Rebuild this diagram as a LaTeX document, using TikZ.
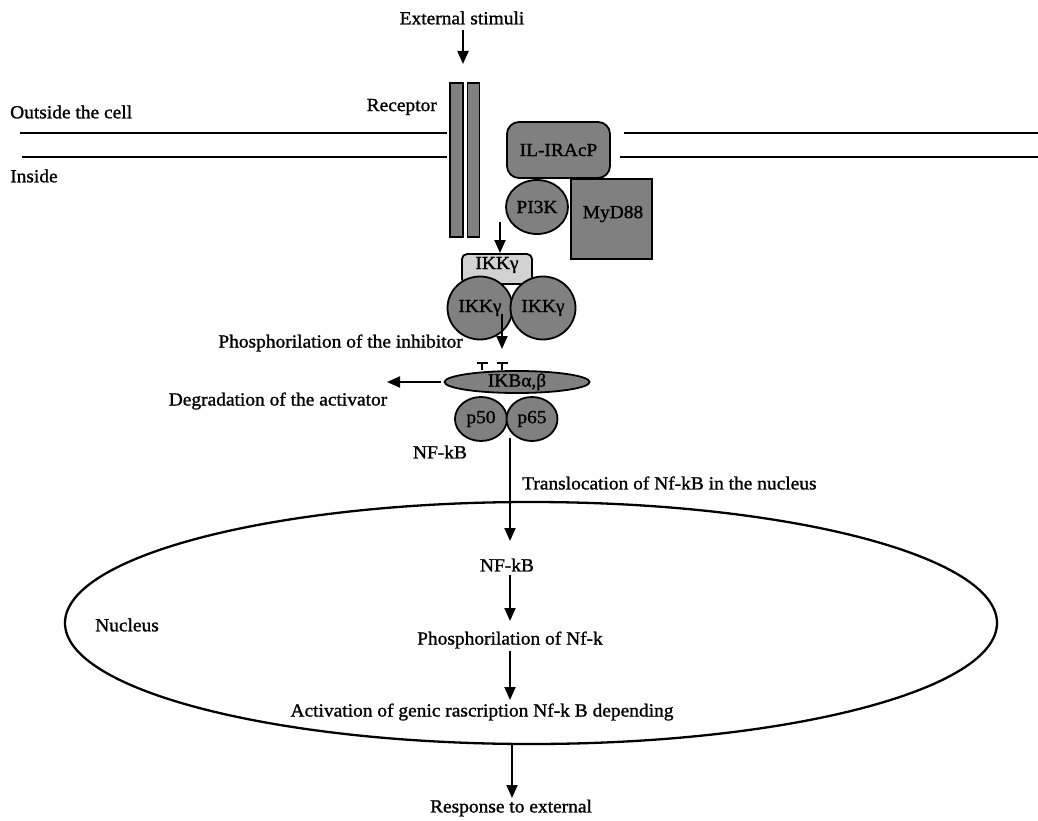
\documentclass[tikz,border=0pt]{standalone}
\usepackage{fontspec}
\setmainfont[FakeStretch=1.05,FakeBold=1.2]{Liberation Serif}
\usetikzlibrary{arrows.meta,shapes.geometric}
\definecolor{protgray}{HTML}{808080}
\definecolor{lightprot}{HTML}{D2D2D2}
\tikzset{
  lbl/.style={inner sep=0pt, font=\fontsize{18.5}{20}\selectfont},
  arr/.style={line width=2pt, -{Triangle[length=13pt,width=11pt]}},
  inhib/.style={line width=1.6pt, {Bar[width=11pt,line width=1.6pt]}-},
  memb/.style={line width=2.2pt},
  prot/.style={draw=black, line width=1.8pt, fill=protgray, inner sep=0pt, font=\fontsize{18.5}{20}\selectfont},
  bar/.style={prot, rectangle, minimum height=154pt},
}
\begin{document}
\begin{tikzpicture}[x=1pt,y=-1pt]
\useasboundingbox (0,0) rectangle (1038,821);
% membrane
\draw[memb] (20,133) -- (447,133);
\draw[memb] (22,157) -- (447,157);
\draw[memb] (624,133) -- (1038,133);
\draw[memb] (620,157) -- (1038,157);
\node[lbl, anchor=west] (outside) at (10,112) {Outside the cell};
\node[lbl, anchor=west] (inside) at (10,176) {Inside};
% stimulus
\node[lbl] (ext) at (462,18) {External stimuli};
\coordinate (s1) at (463,30);
\coordinate (s2) at (463,64);
\draw[arr] (s1) -- (s2);
% receptor
\node[bar, minimum width=13pt] (rec1) at (456.5,160) {};
\node[bar, minimum width=12pt] (rec2) at (473.5,160) {};
\node[lbl, anchor=east] (reclbl) at (437,107) {Receptor};
% complex
\node[prot, rectangle, minimum width=81pt, minimum height=80pt] (myd) at (611.5,219) {};
\node[lbl] at (613,214) {MyD88};
\node[prot, rectangle, rounded corners=12pt, minimum width=103pt, minimum height=56pt] (il) at (558.5,150) {IL-IRAcP};
\node[prot, ellipse, minimum width=62pt, minimum height=54pt] (pi3k) at (537,207) {PI3K};
\coordinate (a1) at (500,222);
\coordinate (a2) at (500,253);
\draw[arr] (a1) -- (a2);
% IKK
\node[prot, rectangle, rounded corners=5pt, fill=lightprot, minimum width=70pt, minimum height=30pt] (ikkbox) at (497,269) {};
\node[lbl] at (497,265) {IKKγ};
\node[prot, ellipse, minimum width=65pt, minimum height=63pt] (ikk1) at (480,308) {IKKγ};
\node[prot, ellipse, minimum width=65pt, minimum height=63pt] (ikk2) at (543,308) {IKKγ};
\coordinate (b1) at (502,314);
\coordinate (b2) at (502,349);
\draw[arr] (b1) -- (b2);
\node[lbl, anchor=east] (phos) at (463,343) {Phosphorilation of the inhibitor};
% IKB
\node[prot, ellipse, minimum width=145pt, minimum height=22pt] (ikb) at (517,382) {};
\node[lbl] at (517,382) {IKBα,β};
\coordinate (t1) at (482,362);
\coordinate (t2) at (502,362);
\draw[inhib] (t1) -- (t1 |- ikb.north);
\draw[inhib] (t2) -- (t2 |- ikb.north);
\coordinate (deg) at (387,382);
\draw[arr] ([xshift=-3pt]ikb.west) -- (deg);
\node[lbl] (degl) at (278,401) {Degradation of the activator};
% NF-kB dimer
\node[prot, ellipse, minimum width=52pt, minimum height=44pt] (p50) at (481,419) {p50};
\node[prot, ellipse, minimum width=51pt, minimum height=44pt] (p65) at (532,419) {p65};
\node[lbl] (nfkb) at (440,452) {NF-kB};
\coordinate (tr1) at (510,438);
\coordinate (tr2) at (510,541);
% nucleus
\node[draw, line width=2.3pt, ellipse, minimum width=932pt, minimum height=242pt] (nuc) at (531,623) {};
\draw[arr] (tr1) -- (tr2);
\node[lbl, anchor=west] (trans) at (522,483) {Translocation of Nf-kB in the nucleus};
\node[lbl, anchor=west] (nuclbl) at (95,625) {Nucleus};
\node[lbl] (nfkb2) at (507,565) {NF-kB};
\coordinate (c1) at (510,575);
\coordinate (c2) at (510,621);
\draw[arr] (c1) -- (c2);
\node[lbl] (phos2) at (510,640) {Phosphorilation of Nf-k};
\coordinate (d1) at (510,651);
\coordinate (d2) at (510,700);
\draw[arr] (d1) -- (d2);
\node[lbl] (act) at (482,712) {Activation of genic rascription Nf-k B depending};
\coordinate (e1) at (512,743);
\coordinate (e2) at (512,798);
\draw[arr] (e1) -- (e2);
\node[lbl] (resp) at (511,808) {Response to external};
\end{tikzpicture}
\end{document}
